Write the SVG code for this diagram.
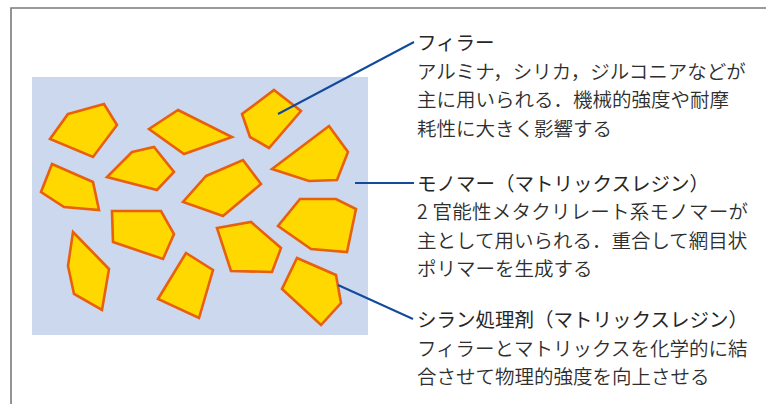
<svg xmlns="http://www.w3.org/2000/svg" width="766" height="404" viewBox="0 0 766 404">
  <style>
    .frame { fill: none; stroke: #7a7a7a; stroke-width: 1.6; }
    .matrix { fill: #ccd8ee; }
    .filler { fill: #ffd800; stroke: #e85f0c; stroke-width: 2.6; stroke-linejoin: miter; }
    .leader { fill: none; stroke: #124a9c; stroke-width: 2; }
    .head { font-family: "Noto Sans CJK JP", "Noto Sans", sans-serif; font-size: 19.5px; font-weight: 400; fill: #262626; dominant-baseline: central; }
    .body { font-family: "Noto Sans CJK JP", "Noto Sans", sans-serif; font-size: 19.5px; font-weight: 350; fill: #2e2e2e; dominant-baseline: central; }
  </style>

  <!-- outer frame (runs past the right and bottom edges) -->
  <path class="frame" d="M11,404 V8 H766"/>

  <!-- resin matrix block -->
  <g id="matrix">
    <rect class="matrix" x="32" y="77" width="336" height="258"/>
  </g>

  <!-- filler particles -->
  <g id="particles">
    <polygon id="p1" class="filler" points="68,114 104,104 117,125 93,157 50,139"/>
    <polygon id="p2" class="filler" points="178,110 232,137 184,154 149,129"/>
    <polygon id="p3" class="filler" points="274,90 301,111 269,148 250,137 242,114"/>
    <polygon id="p4" class="filler" points="329,126 348,152 337,180 309,181 272,169"/>
    <polygon id="p5" class="filler" points="132,152 154,147 174,172 157,190 107,177"/>
    <polygon id="p6" class="filler" points="52,164 93,182 99,210 64,207 41,192"/>
    <polygon id="p7" class="filler" points="206,176 243,160 261,184 223,216 183,202"/>
    <polygon id="p8" class="filler" points="300,199 336,199 356,209 347,252 311,249 278,226"/>
    <polygon id="p9" class="filler" points="112,211 161,211 174,234 163,259 113,242"/>
    <polygon id="p10" class="filler" points="73,232 109,269 102,310 74,294 68,266"/>
    <polygon id="p11" class="filler" points="186,253 213,270 199,318 158,299"/>
    <polygon id="p12" class="filler" points="217,228 251,222 281,248 272,272 231,271"/>
    <polygon id="p13" class="filler" points="297,258 336,275 341,303 321,325 282,289"/>
  </g>

  <!-- leader lines -->
  <g id="connectors">
    <path class="leader" d="M278,114 L414,42"/>
    <path class="leader" d="M355,183 H414"/>
    <path class="leader" d="M338,285 L413,319"/>
  </g>

  <!-- callout: filler -->
  <g id="label-filler">
    <text class="head" x="417" y="41.5">フィラー</text>
    <text class="body" x="417" y="70">アルミナ，シリカ，ジルコニアなどが</text>
    <text class="body" x="417" y="98.5">主に用いられる．機械的強度や耐摩</text>
    <text class="body" x="417" y="127">耗性に大きく影響する</text>
  </g>

  <!-- callout: monomer -->
  <g id="label-monomer">
    <text class="head" x="417" y="182">モノマー（マトリックスレジン）</text>
    <text class="body" x="417" y="210.5" textLength="331" lengthAdjust="spacing">2 官能性メタクリレート系モノマーが</text>
    <text class="body" x="417" y="239">主として用いられる．重合して網目状</text>
    <text class="body" x="417" y="267.5">ポリマーを生成する</text>
  </g>

  <!-- callout: silane coupling agent -->
  <g id="label-silane">
    <text class="head" x="417" y="318.5">シラン処理剤（マトリックスレジン）</text>
    <text class="body" x="417" y="347">フィラーとマトリックスを化学的に結</text>
    <text class="body" x="417" y="375.5">合させて物理的強度を向上させる</text>
  </g>
</svg>
